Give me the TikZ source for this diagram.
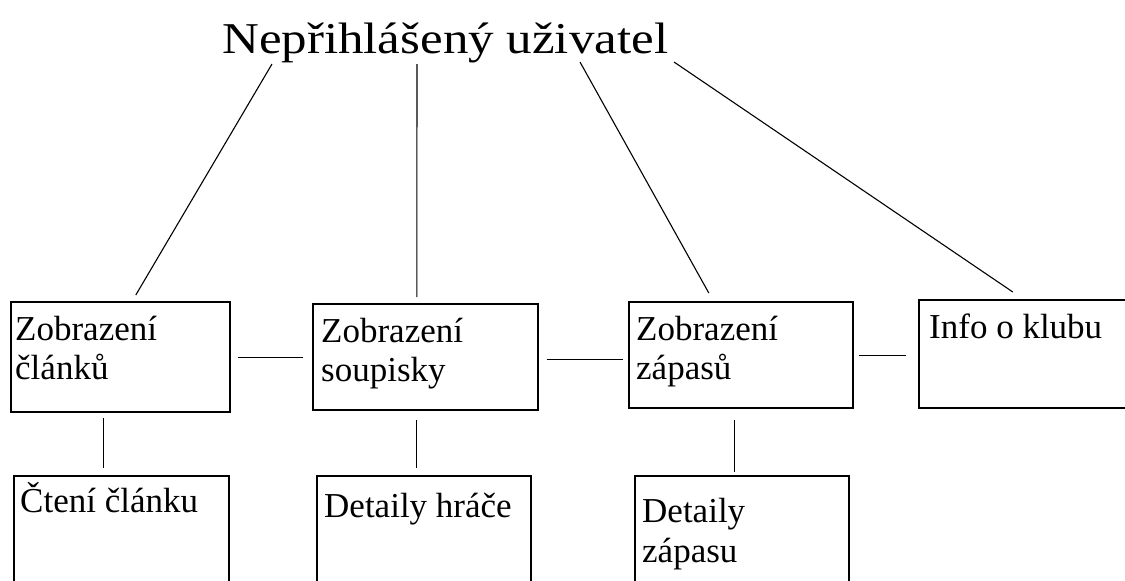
\documentclass[tikz,border=0pt]{standalone}
\usepackage{fontspec}
\setmainfont{Liberation Serif}
\usepackage{graphicx}
\usetikzlibrary{calc}
\begin{document}
\begin{tikzpicture}[x=1pt,y=-1pt,
  box/.style={draw, line width=1.6pt, inner sep=0pt, anchor=north west},
  lbl/.style={inner sep=0pt, anchor=north west, align=left, font=\fontsize{35}{39}\selectfont},
  link/.style={line width=1.1pt}]
\useasboundingbox (0,0) rectangle (1125,581);
\clip (0,0) rectangle (1125,581);
% title
\node[inner sep=0pt, anchor=base west, font=\fontsize{44}{50}\selectfont] (title) at (222,53) {\resizebox{446pt}{\height}{Nepřihlášený uživatel}};
\coordinate (t1) at (272,64);
\coordinate (t2) at (417,64);
\coordinate (t3) at (580,62);
\coordinate (t4) at (674,62);
% upper boxes
\node[box, minimum width=219pt, minimum height=110pt] (b1) at (10,301) {};
\node[box, minimum width=225pt, minimum height=106pt] (b2) at (312,303) {};
\node[box, minimum width=224pt, minimum height=106pt] (b3) at (628,301) {};
\node[box, minimum width=215pt, minimum height=108pt] (b4) at (918,299) {};
% lower boxes
\node[box, minimum width=215pt, minimum height=140pt] (c1) at (13,475) {};
\node[box, minimum width=214pt, minimum height=140pt] (c2) at (316,475) {};
\node[box, minimum width=214pt, minimum height=140pt] (c3) at (634,475) {};
% labels
\node[lbl] (l1) at (15,304) {\rule{0pt}{36pt}Zobrazení\\článků};
\node[lbl] (l2) at (321,306) {\rule{0pt}{36pt}Zobrazení\\soupisky};
\node[lbl] (l3) at (636,304) {\rule{0pt}{36pt}Zobrazení\\zápasů};
\node[lbl] (l4) at (929,302) {\rule{0pt}{36pt}Info o klubu};
\node[lbl] (m1) at (20,476) {\rule{0pt}{36pt}Čtení článku};
\node[lbl] (m2) at (324,481) {\rule{0pt}{36pt}Detaily hráče};
\node[lbl, font=\fontsize{35}{40}\selectfont] (m3) at (642,486) {\rule{0pt}{36pt}Detaily\\zápasu};
% connectors from title
\draw[link] (t1) -- ([shift={(15.5,-6)}]b1.north);
\draw[link] (t2) -- ([shift={(-8.5,-6)}]b2.north);
\draw[link] (t3) -- ([shift={(-32,-8)}]b3.north);
\draw[link] (t4) -- ([shift={(-13.5,-7)}]b4.north);
% horizontal connectors
\draw[link] ($(b1.east)+(7,1)$) -- ($(b1.east -| b2.west)+(-9,1)$);
\draw[link] ($(b2.east)+(8,3)$) -- ($(b2.east -| b3.west)+(-5,3)$);
\draw[link] ($(b3.east)+(5,1)$) -- ($(b3.east -| b4.west)+(-12,1)$);
% vertical connectors
\draw[link] ($(b1.south)+(-16.5,5)$) -- ($(b1.south |- c1.north)+(-16.5,-7)$);
\draw[link] ($(b2.south)+(-8.5,9)$) -- ($(b2.south |- c2.north)+(-8.5,-7)$);
\draw[link] ($(b3.south)+(-6,11)$) -- ($(b3.south |- c3.north)+(-6,-3)$);
\end{tikzpicture}
\end{document}
